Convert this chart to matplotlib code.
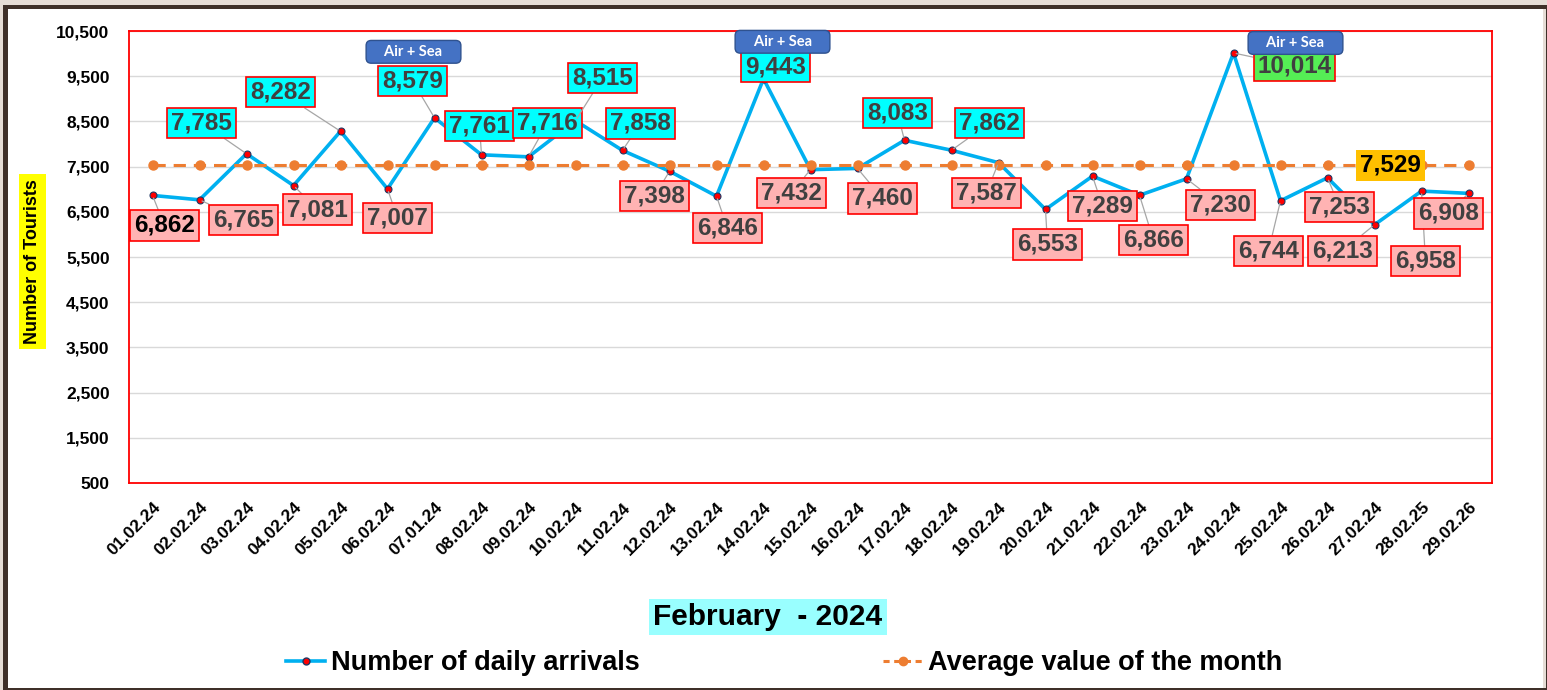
import matplotlib
matplotlib.use("Agg")
import matplotlib.pyplot as plt
from matplotlib.patches import Rectangle
from matplotlib.lines import Line2D
from matplotlib.ticker import FuncFormatter, FixedLocator

# ---------------- data ----------------
dates = ["01.02.24", "02.02.24", "03.02.24", "04.02.24", "05.02.24", "06.02.24",
         "07.01.24", "08.02.24", "09.02.24", "10.02.24", "11.02.24", "12.02.24",
         "13.02.24", "14.02.24", "15.02.24", "16.02.24", "17.02.24", "18.02.24",
         "19.02.24", "20.02.24", "21.02.24", "22.02.24", "23.02.24", "24.02.24",
         "25.02.24", "26.02.24", "27.02.24", "28.02.25", "29.02.26"]
arrivals = [6862, 6765, 7785, 7081, 8282, 7007, 8579, 7761, 7716, 8515, 7858, 7398,
            6846, 9443, 7432, 7460, 8083, 7862, 7587, 6553, 7289, 6866, 7230, 10014,
            6744, 7253, 6213, 6958, 6908]
month_average = 7529
air_sea_days = [6, 13, 23]
y_ticks = [500, 1500, 2500, 3500, 4500, 5500, 6500, 7500, 8500, 9500, 10500]

# ---------------- layout (label offsets in pixels) ----------------
label_offsets = [(12, -30), (44, -20), (-45, 31), (24, -24), (-60, 39), (10, -29),
                 (-22, 37), (-2, 29), (19, 34), (27, 43), (18, 27), (-15, -25),
                 (11, -32), (12, 12), (-19, -23), (25, -30), (-7, 27), (38, 27),
                 (-12, -30), (2, -35), (10, -30), (14, -45), (34, -26), (61, -13),
                 (-12, -50), (12, -29), (-32, -26), (4, -70), (-20, -20)]
air_sea_offsets = [(-21, 66), (19, 37), (62, 10)]

W, H = 1547, 690
fig = plt.figure(figsize=(W / 100, H / 100), dpi=100)
fig.patch.set_facecolor("#e6ddd6")

# frame: dark border + white page
fig.add_artist(Rectangle((3 / W, 0), 1 - 3 / W, 1 - 5 / H, transform=fig.transFigure,
                         facecolor="#3f3029", edgecolor="none", zorder=-10))
fig.add_artist(Rectangle((8 / W, 2 / H), (1543 - 8) / W, (681 - 2) / H, transform=fig.transFigure,
                         facecolor="white", edgecolor="none", zorder=-9))
fig.add_artist(Rectangle((1543 / W, 2 / H), 2.5 / W, (681 - 2) / H, transform=fig.transFigure,
                         facecolor="#e6ddd6", edgecolor="none", zorder=-9))

ax = fig.add_axes([129 / W, (H - 483) / H, 1363 / W, 452 / H])
ax.set_facecolor("white")
x = list(range(len(dates)))

ax.plot(x, arrivals, color="#00b0f0", lw=2.6, marker="o", markersize=5,
        markerfacecolor="#ff0000", markeredgecolor="#203864", markeredgewidth=0.8, zorder=3)
avg_line = [month_average] * len(dates)
ax.plot(x, avg_line, color="#ed7d31", lw=2.2, linestyle=(0, (4, 2.6)), marker="o",
        markersize=6.5, markerfacecolor="#ed7d31", markeredgecolor="#ed7d31", zorder=4)

ax.set_xlim(-0.5, len(dates) - 0.5)
ax.set_ylim(500, 10500)
ax.yaxis.set_major_locator(FixedLocator(y_ticks))
ax.yaxis.set_major_formatter(FuncFormatter(lambda v, p: f"{int(v):,}"))
ax.grid(axis="y", color="#d9d9d9", lw=1.0, zorder=0)
ax.set_axisbelow(True)
for s in ax.spines.values():
    s.set_color("#ff0000")
    s.set_linewidth(1.3)

ax.set_xticks(x)
ax.set_xticklabels(dates, rotation=45, ha="right", rotation_mode="anchor",
                   fontsize=12.5, fontweight="bold", family=["Liberation Sans", "DejaVu Sans"])
ax.tick_params(axis="x", length=0, pad=12)
ax.tick_params(axis="y", length=0, pad=14, labelsize=12.5)
for t in ax.get_yticklabels():
    t.set_fontweight("bold")
    t.set_family(["Liberation Sans", "DejaVu Sans"])

ax.set_ylabel("Number of Tourists", fontsize=13, fontweight="bold",
              family=["Liberation Sans", "DejaVu Sans"],
              bbox=dict(boxstyle="square,pad=0.3", facecolor="#ffff00", edgecolor="none"))
ax.yaxis.set_label_coords(-88 / 1363, 0.49)

# data labels
vmax = max(arrivals)
for i, v in enumerate(arrivals):
    if v == vmax:
        fc = "#55ee55"
    elif v > 7600:
        fc = "#00ffff"
    else:
        fc = "#ffb3b3"
    tc = "#000000" if i == 0 else "#404040"
    ax.annotate(f"{v:,}", xy=(i, v), xytext=label_offsets[i], textcoords="offset pixels",
                ha="center", va="center", fontsize=17.5, fontweight="bold", color=tc,
                family=["Liberation Sans", "DejaVu Sans"],
                bbox=dict(boxstyle="square,pad=0.15", facecolor=fc, edgecolor="#ff0000", lw=1.2),
                arrowprops=dict(arrowstyle="-", color="#a6a6a6", lw=0.9, shrinkA=0, shrinkB=2),
                zorder=6, annotation_clip=False)

# average label
ax.annotate(f"{month_average:,}", xy=(26, month_average), xytext=(16, 0), textcoords="offset pixels",
            ha="center", va="center", fontsize=17.5, fontweight="bold", color="#000000",
            family=["Liberation Sans", "DejaVu Sans"],
            bbox=dict(boxstyle="square,pad=0.17", facecolor="#ffc000", edgecolor="none"),
            zorder=6)

# Air + Sea callouts
for k, d in enumerate(air_sea_days):
    ax.annotate("    Air + Sea    ", xy=(d, arrivals[d]), xytext=air_sea_offsets[k],
                textcoords="offset pixels", ha="center", va="center", fontsize=10.5,
                fontweight="bold", color="white", family=["Lato", "DejaVu Sans"],
                bbox=dict(boxstyle="round,pad=0.3,rounding_size=0.35", facecolor="#4472c4",
                          edgecolor="#2f528f", lw=1.0),
                zorder=7, annotation_clip=False)

# title
fig.text(768 / W, 1 - 617 / H, "February  - 2024", ha="center", va="center", fontsize=21.5,
         fontweight="bold", family=["Liberation Sans", "DejaVu Sans"],
         bbox=dict(boxstyle="square,pad=0.15", facecolor="#99ffff", edgecolor="none"))

# legend
h1 = Line2D([], [], color="#00b0f0", lw=2.6, marker="o", markersize=5,
            markerfacecolor="#ff0000", markeredgecolor="#203864")
h2 = Line2D([], [], color="#ed7d31", lw=2.2, linestyle=(0, (2, 1.5)), marker="o", markersize=6,
            markerfacecolor="#ed7d31", markeredgecolor="#ed7d31")
fig.legend([h1, h2], ["Number of daily arrivals", "Average value of the month"],
           loc="center", bbox_to_anchor=(784 / W, 27 / H), ncol=2, frameon=False,
           columnspacing=9.0, handlelength=1.45, handletextpad=0.2,
           prop=dict(family=["Liberation Sans Narrow", "Liberation Sans"], weight="bold", size=19.5))

fig.savefig("out.png", dpi=100, facecolor=fig.get_facecolor())
